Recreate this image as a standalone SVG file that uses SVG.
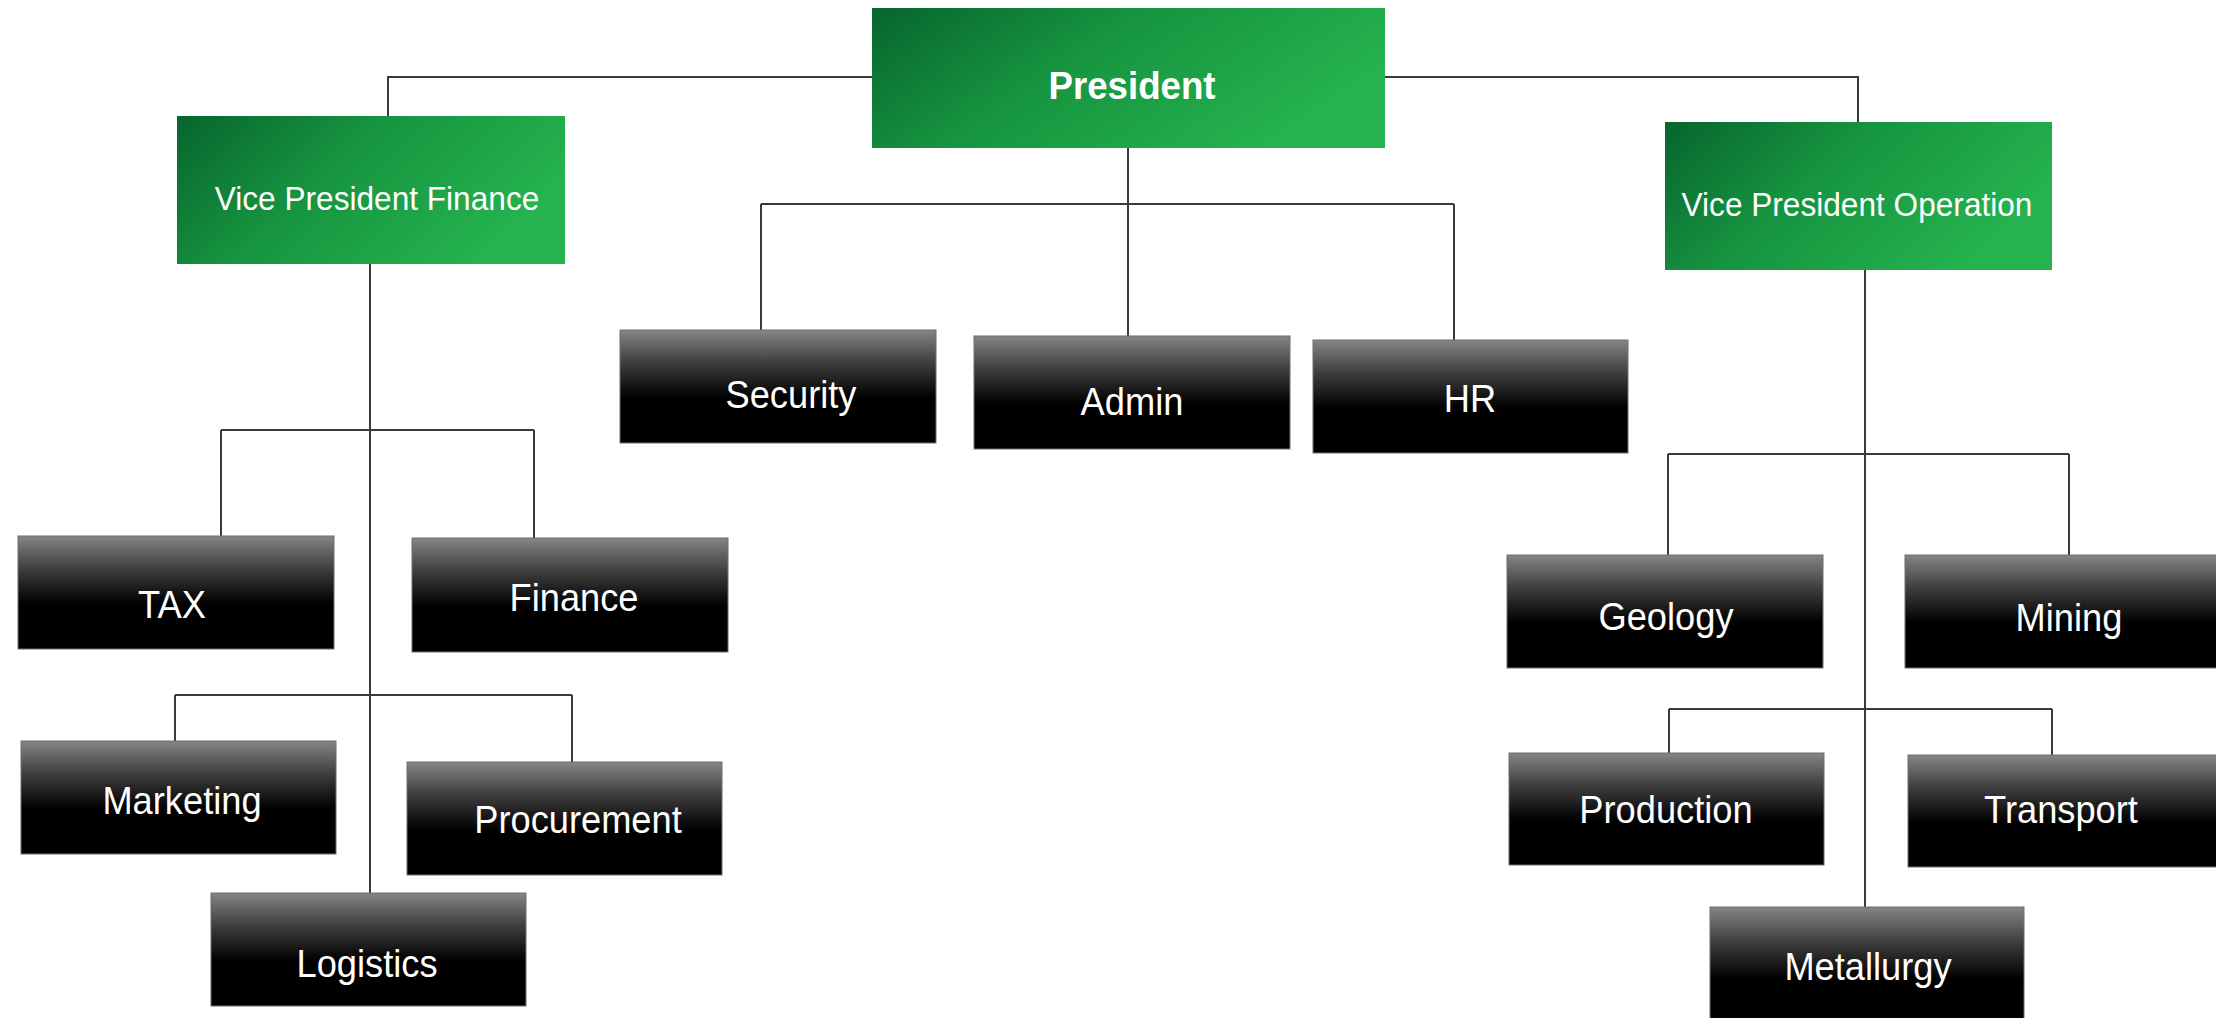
<svg xmlns="http://www.w3.org/2000/svg" width="2216" height="1018" viewBox="0 0 2216 1018">
<defs>
<linearGradient id="g" x1="0" y1="0" x2="1" y2="0.4">
<stop offset="0" stop-color="#07652e"/>
<stop offset="0.45" stop-color="#16933f"/>
<stop offset="1" stop-color="#25b24f"/>
</linearGradient>
<linearGradient id="k" x1="0" y1="0" x2="0" y2="1">
<stop offset="0" stop-color="#858585"/>
<stop offset="0.3" stop-color="#3c3c3c"/>
<stop offset="0.6" stop-color="#000"/>
<stop offset="1" stop-color="#000"/>
</linearGradient>
<style>
.gb{fill:url(#g)}
.kb{fill:url(#k);stroke:#6e6e6e;stroke-width:1}
.t{font-family:"Liberation Sans",Arial,sans-serif;fill:#fff;text-anchor:middle}
.d{font-size:39px}
.v{font-size:34px}
.p{font-size:39px;font-weight:bold}
.c{fill:none;stroke:#3a3a3a;stroke-width:2}
</style>
</defs>
<rect width="2216" height="1018" fill="#fff"/>
<g id="connectors">
<path class="c" d="M872 77H388V116"/>
<path class="c" d="M1385 77H1858V122"/>
<path class="c" d="M1128 148V204M761 204H1454M761 204V330M1128 204V336M1454 204V340"/>
<path class="c" d="M370 264V893M221 430H534M221 430V536M534 430V538M175 695H572M175 695V741M572 695V762"/>
<path class="c" d="M1865 270V907M1668 454H2069M1668 454V555M2069 454V555M1669 709H2052M1669 709V753M2052 709V755"/>
</g>
<g id="president"><rect class="gb" x="872" y="8" width="513" height="140"/><text class="t p" transform="translate(1132 99) scale(0.94 1)">President</text></g>
<g id="vp-finance"><rect class="gb" x="177" y="116" width="388" height="148"/><text class="t v" transform="translate(377 210) scale(0.93 1)">Vice President Finance</text></g>
<g id="vp-operation"><rect class="gb" x="1665" y="122" width="387" height="148"/><text class="t v" transform="translate(1857 216) scale(0.93 1)">Vice President Operation</text></g>
<g id="security"><rect class="kb" x="620" y="330" width="316" height="113"/><text class="t d" transform="translate(791 408) scale(0.93 1)">Security</text></g>
<g id="admin"><rect class="kb" x="974" y="336" width="316" height="113"/><text class="t d" transform="translate(1132 415) scale(0.93 1)">Admin</text></g>
<g id="hr"><rect class="kb" x="1313" y="340" width="315" height="113"/><text class="t d" transform="translate(1470 412) scale(0.93 1)">HR</text></g>
<g id="tax"><rect class="kb" x="18" y="536" width="316" height="113"/><text class="t d" transform="translate(172 618) scale(0.93 1)">TAX</text></g>
<g id="finance"><rect class="kb" x="412" y="538" width="316" height="114"/><text class="t d" transform="translate(574 611) scale(0.93 1)">Finance</text></g>
<g id="marketing"><rect class="kb" x="21" y="741" width="315" height="113"/><text class="t d" transform="translate(182 814) scale(0.93 1)">Marketing</text></g>
<g id="procurement"><rect class="kb" x="407" y="762" width="315" height="113"/><text class="t d" transform="translate(578 833) scale(0.93 1)">Procurement</text></g>
<g id="logistics"><rect class="kb" x="211" y="893" width="315" height="113"/><text class="t d" transform="translate(367 977) scale(0.93 1)">Logistics</text></g>
<g id="geology"><rect class="kb" x="1507" y="555" width="316" height="113"/><text class="t d" transform="translate(1666 630) scale(0.93 1)">Geology</text></g>
<g id="mining"><rect class="kb" x="1905" y="555" width="320" height="113"/><text class="t d" transform="translate(2069 631) scale(0.93 1)">Mining</text></g>
<g id="production"><rect class="kb" x="1509" y="753" width="315" height="112"/><text class="t d" transform="translate(1666 823) scale(0.93 1)">Production</text></g>
<g id="transport"><rect class="kb" x="1908" y="755" width="320" height="112"/><text class="t d" transform="translate(2061 823) scale(0.93 1)">Transport</text></g>
<g id="metallurgy"><rect class="kb" x="1710" y="907" width="314" height="120"/><text class="t d" transform="translate(1868 980) scale(0.93 1)">Metallurgy</text></g>
</svg>
